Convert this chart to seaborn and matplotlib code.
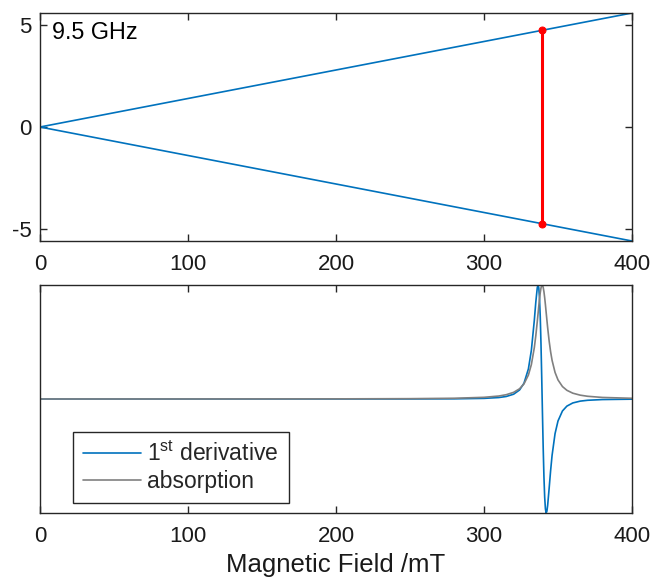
import matplotlib
matplotlib.use("Agg")
import matplotlib.pyplot as plt
import seaborn as sns
import pandas as pd

# ---- data ----
# Zeeman levels (GHz) vs field (mT)
zeeman_field = [0, 400]
level_up = [0, 5.6]
level_down = [0, -5.6]
# resonance transition at 9.5 GHz
res_field = [339.3, 339.3]
res_energy = [-4.75, 4.75]

# EPR spectrum, values (normalized)
field = [0, 100, 200, 250, 280, 300, 310, 315, 320, 324, 327, 330, 332, 334, 335,
         336, 336.5, 337, 337.5, 338, 338.5, 339, 339.3, 339.5, 340, 340.5, 341,
         341.5, 342, 342.5, 343, 344, 345, 346, 348, 350, 353, 356, 360, 365, 370,
         380, 400]
absorption = [0.0002, 0.0004, 0.0012, 0.0029, 0.0065, 0.0147, 0.0261, 0.0376, 0.0583,
              0.0896, 0.1322, 0.2104, 0.3018, 0.4506, 0.5548, 0.6790, 0.7461, 0.8133,
              0.8767, 0.9317, 0.9730, 0.9961, 1.0, 0.9983, 0.9792, 0.9412, 0.8885,
              0.8264, 0.7596, 0.6923, 0.6273, 0.5105, 0.4149, 0.3392, 0.2334, 0.1675,
              0.1093, 0.0763, 0.0510, 0.0337, 0.0239, 0.0137, 0.0062]
derivative = [0.0, 0.0, 0.0001, 0.0005, 0.0016, 0.0055, 0.0128, 0.0220, 0.0420, 0.0788,
              0.1379, 0.2640, 0.4268, 0.6906, 0.8492, 0.9763, 1.0, 0.9761, 0.8878,
              0.7240, 0.4860, 0.1910, 0.0, -0.1279, -0.4306, -0.6820, -0.8611, -0.9640,
              -0.9997, -0.9840, -0.9341, -0.7860, -0.6296, -0.4945, -0.3040, -0.1927,
              -0.1051, -0.0624, -0.0346, -0.0187, -0.0112, -0.0049, -0.0015]

xticks = [0, 100, 200, 300, 400]
yticks_top = [-5, 0, 5]
ytick_labels_top = ["-5", "0", "5"]

sns.set_theme(style="ticks")
plt.rcParams["font.family"] = ["Liberation Sans", "DejaVu Sans"]
plt.rcParams["mathtext.default"] = "regular"
plt.rcParams["axes.unicode_minus"] = False

blue = "#0072BD"
gray = "#808080"
red = "#FF0000"
axc = "#262626"
fs = 16

fig = plt.figure(figsize=(6.52, 5.78), dpi=100)
ax1 = fig.add_axes([40/652, 1-241/578, 592/652, 228/578])
ax2 = fig.add_axes([40/652, 1-513/578, 592/652, 228/578])

# top panel
sns.lineplot(x=zeeman_field, y=level_up, ax=ax1, color=blue, linewidth=1.2,
             estimator=None)
sns.lineplot(x=zeeman_field, y=level_down, ax=ax1, color=blue, linewidth=1.2,
             estimator=None)
sns.lineplot(x=res_field, y=res_energy, ax=ax1, color=red, linewidth=2.2,
             estimator=None, sort=False, marker="o", markersize=5,
             markeredgecolor=red)
ax1.set_xlim(0, 400)
ax1.set_ylim(-5.6, 5.6)
ax1.set_xticks(xticks)
ax1.set_yticks(yticks_top)
ax1.set_yticklabels(ytick_labels_top)
ax1.text(0.02, 0.965, "9.5 GHz", transform=ax1.transAxes, fontsize=16.8,
         ha="left", va="top", color="black")

# bottom panel
df = pd.DataFrame({"field": field, "deriv": derivative, "abs": absorption})
sns.lineplot(data=df, x="field", y="deriv", ax=ax2, color=blue, linewidth=1.2,
             estimator=None, label=r"1$^{st}$ derivative")
sns.lineplot(data=df, x="field", y="abs", ax=ax2, color=gray, linewidth=1.2,
             estimator=None, label="absorption")
ax2.set_xlim(0, 400)
ax2.set_ylim(-1, 1)
ax2.set_xticks(xticks)
ax2.set_yticks([])
ax2.set_ylabel("")
ax2.set_xlabel("Magnetic Field /mT", fontsize=18.5, color="#1a1a1a", labelpad=5)
leg = ax2.legend(loc="lower left", bbox_to_anchor=(33/592, 10/228), fontsize=16.5,
                 frameon=True, fancybox=False, handlelength=2.5, handletextpad=0.3,
                 borderpad=0.45, labelspacing=0.15, borderaxespad=0)
leg.get_frame().set_edgecolor(axc)
leg.get_frame().set_linewidth(1.0)
leg.get_frame().set_alpha(1)

for ax in (ax1, ax2):
    ax.tick_params(direction="in", top=True, right=True, length=5, width=1.0,
                   labelsize=fs, colors=axc, labelcolor="#1a1a1a", pad=9)
    for s in ax.spines.values():
        s.set_visible(True)
        s.set_color(axc)
        s.set_linewidth(1.0)
ax1.set_ylabel("")
ax1.set_xlabel("")
ax1.tick_params(axis="y", pad=6)

fig.savefig("out.png", dpi=100)
